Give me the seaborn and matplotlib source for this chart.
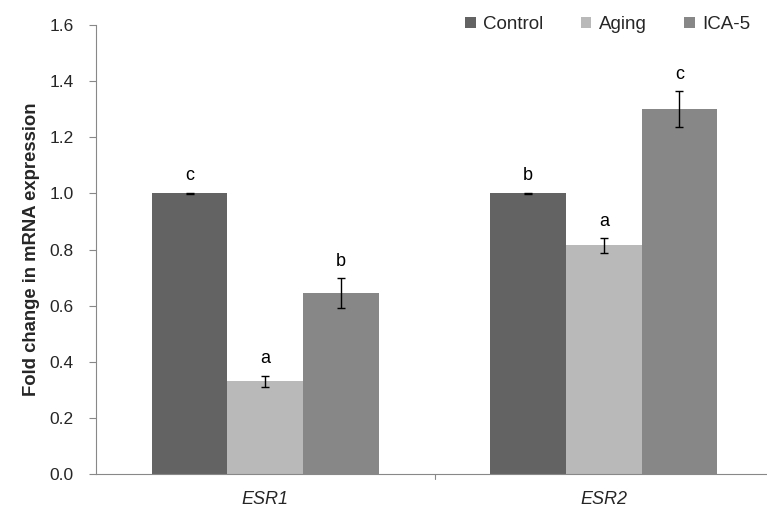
import matplotlib
matplotlib.use("Agg")
import matplotlib.pyplot as plt
import seaborn as sns
import pandas as pd
import numpy as np

# Relative mRNA expression of estrogen receptors
genes = ["ESR1", "ESR2"]
groups = ["Control", "Aging", "ICA-5"]
means = {
    "Control": [1.00, 1.00],
    "Aging": [0.33, 0.815],
    "ICA-5": [0.645, 1.30],
}
errors = {
    "Control": [0.003, 0.003],
    "Aging": [0.021, 0.026],
    "ICA-5": [0.053, 0.065],
}
letters = {
    "Control": ["c", "b"],
    "Aging": ["a", "a"],
    "ICA-5": ["b", "c"],
}
colors = ["#636363", "#b9b9b9", "#878787"]

rows = []
for g in groups:
    for i, gene in enumerate(genes):
        rows.append({"gene": gene, "group": g, "value": means[g][i],
                     "err": errors[g][i], "letter": letters[g][i]})
df = pd.DataFrame(rows)

sns.set_style("white")
plt.rcParams["font.family"] = ["Liberation Sans", "DejaVu Sans"]

fig = plt.figure(figsize=(7.67, 5.09), dpi=100)
ax = fig.add_axes([96 / 767, 35 / 509, 671 / 767, 449 / 509])

sns.barplot(data=df, x="gene", y="value", hue="group", order=genes,
            hue_order=groups, palette=colors, width=0.67, errorbar=None,
            saturation=1, linewidth=0, ax=ax)

# error bars and significance letters, placed at each bar's centre
# (seaborn adds the bars hue by hue, gene by gene within a hue)
for patch, (_, r) in zip(ax.patches, df.iterrows()):
    xc = patch.get_x() + patch.get_width() / 2
    ax.errorbar(xc, r["value"], yerr=r["err"], fmt="none", ecolor="black",
                elinewidth=1, capsize=3, capthick=1)
    ax.text(xc, r["value"] + r["err"] + 0.03, r["letter"], ha="center",
            va="bottom", fontsize=13, color="black")

ax.set_ylim(0, 1.6)
ax.set_xlim(-0.5, -0.5 + 671 / 338.5)
yt = np.arange(0, 1.61, 0.2)
ax.set_yticks(yt)
ax.set_yticklabels([f"{v:.1f}" for v in yt], fontsize=12.5)
ax.set_xticks([0, 1])
ax.set_xticklabels(genes, fontsize=13, style="italic")
ax.tick_params(axis="x", length=0, pad=12)
ax.tick_params(axis="y", length=5, width=0.8, color="#888888", left=True,
               direction="out", pad=11)
# category separator tick on the x axis
ax.plot([0.5, 0.5], [0, -0.018], color="#888888", lw=0.8, clip_on=False)

ax.set_xlabel("")
ax.set_ylabel("Fold change in mRNA expression", fontsize=13.3,
              fontweight="bold")
ax.yaxis.set_label_coords(-56 / 671, 0.5)

for side in ["top", "right"]:
    ax.spines[side].set_visible(False)
for side in ["left", "bottom"]:
    ax.spines[side].set_color("#888888")
    ax.spines[side].set_linewidth(0.8)

handles, labels = ax.get_legend_handles_labels()
ax.legend(handles, labels, ncol=3, loc="upper right", frameon=False,
          fontsize=13.5, handlelength=0.55, handleheight=0.55,
          handletextpad=0.4, columnspacing=2.0,
          bbox_to_anchor=(1.0, 1.057))

fig.savefig("out.png", dpi=100)
